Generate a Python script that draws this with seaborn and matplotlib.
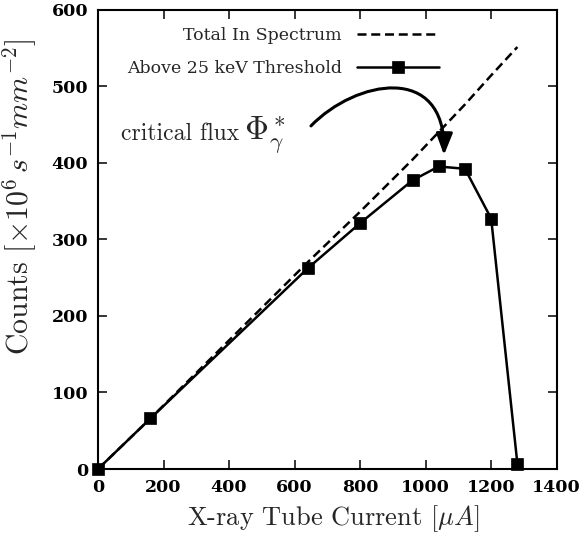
import matplotlib
matplotlib.use("Agg")
import matplotlib.pyplot as plt
import seaborn as sns
from matplotlib.path import Path
from matplotlib.patches import FancyArrowPatch

# Tube current settings and measured count rates (x10^6 s^-1 mm^-2)
current_ua = [0, 160, 640, 800, 960, 1040, 1120, 1200, 1280]
total_counts = [0, 66, 270, 336, 404, 440, 476, 514, 551]
above_threshold = [0, 66, 262, 321, 377, 395, 392, 327, 7]

x_ticks = [0, 200, 400, 600, 800, 1000, 1200, 1400]
y_ticks = [0, 100, 200, 300, 400, 500, 600]

label_total = "Total In Spectrum"
label_above = "Above 25 keV Threshold"

sns.set_theme(style="ticks")
plt.rcParams.update({
    "font.family": ["cmr10"],
    "mathtext.fontset": "cm",
    "axes.unicode_minus": False,
    "axes.formatter.use_mathtext": True,
    "axes.edgecolor": "black",
    "axes.linewidth": 1.5,
    "xtick.color": "black",
    "ytick.color": "black",
})

fig = plt.figure(figsize=(5.84, 5.46), dpi=100)
ax = fig.add_axes([98 / 584, 1 - 469 / 546, 458.7 / 584, 459.5 / 546])

sns.lineplot(x=current_ua, y=total_counts, ax=ax, color="black",
             linestyle=(0, (3.6, 1.9)), linewidth=1.8, label=label_total)
sns.lineplot(x=current_ua, y=above_threshold, ax=ax, color="black",
             linewidth=1.8, marker="s", markersize=8.5,
             markerfacecolor="black", markeredgecolor="black",
             markeredgewidth=0.5, label=label_above, clip_on=False)

ax.set_xlim(0, 1400)
ax.set_ylim(0, 600)
ax.set_xticks(x_ticks)
ax.set_yticks(y_ticks)
ax.set_xticklabels([str(v) for v in x_ticks])
ax.set_yticklabels([str(v) for v in y_ticks])
ax.tick_params(direction="in", top=True, right=True, length=6.7, width=1.1,
               labelsize=12.5, labelfontfamily="DejaVu Serif", pad=7)
for lab in ax.get_xticklabels() + ax.get_yticklabels():
    lab.set_fontweight("bold")
for side in ("top", "right", "bottom", "left"):
    ax.spines[side].set_visible(True)
    ax.spines[side].set_linewidth(1.5)

ax.set_xlabel(r"X-ray Tube Current $[\mu A]$", fontsize=19, labelpad=5)
ax.xaxis.set_label_coords(0.512, -0.075)
ax.set_ylabel(r"Counts $[\times 10^6\, s^{-1} mm^{-2}]$", fontsize=21.5)
ax.yaxis.set_label_coords(-0.128, 0.592)

leg = ax.legend(loc="upper right", bbox_to_anchor=(0.7434, 0.962),
                markerfirst=False, frameon=False,
                prop={"family": "DejaVu Serif", "size": 12.5},
                handlelength=4.7, handletextpad=0.9, labelspacing=0.95,
                borderpad=0, borderaxespad=0)

ax.text(70, 430, "critical flux", fontsize=17, va="baseline", ha="left")
ax.text(446, 430, r"$\Phi^*_\gamma$", fontsize=24, va="baseline", ha="left")

arrow_path = Path([(650, 448), (786, 508), (1061, 531), (1056, 410)],
                  [Path.MOVETO, Path.CURVE4, Path.CURVE4, Path.CURVE4])
arrow = FancyArrowPatch(path=arrow_path,
                        arrowstyle="-|>,head_length=1.3,head_width=0.5",
                        mutation_scale=10, lw=2.2, color="black")
ax.add_patch(arrow)

fig.savefig("out.png", dpi=100)
